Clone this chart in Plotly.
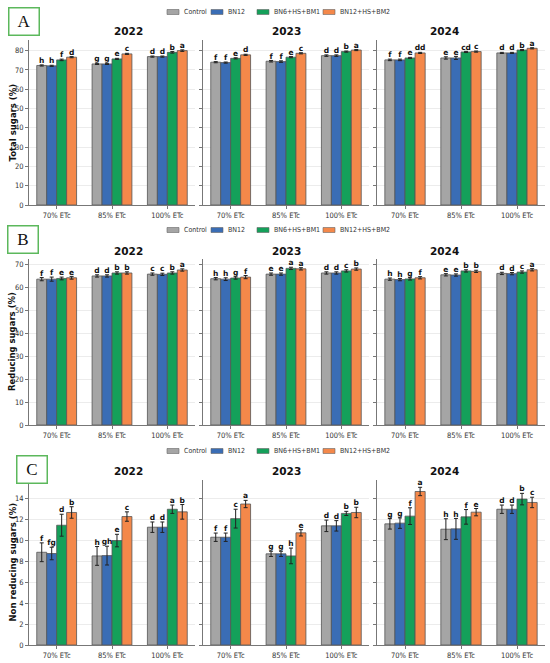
import plotly.graph_objects as go
from plotly.subplots import make_subplots

# treatments and irrigation levels
treatments = ["Control", "BN12", "BN6+HS+BM1", "BN12+HS+BM2"]
colors = ["#a5a5a5", "#3a6db5", "#14a05a", "#f4884a"]
etc_labels = ["70% ETc", "85% ETc", "100% ETc"]
years = ["2022", "2023", "2024"]

# Total sugars (%) -> [year][treatment][etc]
total_2022 = [[72.3, 73.1, 76.9], [72.1, 73.1, 76.9], [75.2, 75.7, 79.1], [76.6, 78.3, 80.0]]
total_2023 = [[74.0, 74.5, 77.4], [73.8, 74.3, 77.4], [76.0, 76.6, 79.5], [77.8, 78.6, 80.3]]
total_2024 = [[75.2, 76.2, 78.8], [75.2, 76.2, 78.8], [76.2, 79.3, 80.3], [78.8, 79.5, 81.2]]
total_err_2022 = [[0.3, 0.3, 0.3], [0.3, 0.3, 0.3], [0.4, 0.3, 0.4], [0.3, 0.3, 0.4]]
total_err_2023 = [[0.3, 0.4, 0.4], [0.3, 0.4, 0.4], [0.3, 0.3, 0.3], [0.3, 0.3, 0.3]]
total_err_2024 = [[0.4, 0.6, 0.3], [0.4, 0.8, 0.3], [0.3, 0.3, 0.3], [0.3, 0.3, 0.3]]
total_let_2022 = [["h", "g", "d"], ["h", "g", "d"], ["f", "e", "b"], ["d", "c", "a"]]
total_let_2023 = [["f", "f", "d"], ["f", "f", "d"], ["e", "e", "b"], ["d", "c", "a"]]
total_let_2024 = [["f", "e", "d"], ["f", "e", "d"], ["e", "cd", "b"], ["dd", "c", "a"]]

# Reducing sugars (%)
red_2022 = [[63.7, 65.1, 65.9], [63.7, 65.1, 65.8], [64.0, 66.4, 66.4], [64.3, 66.4, 67.7]]
red_2023 = [[63.9, 65.9, 66.4], [63.7, 65.9, 66.4], [64.2, 68.4, 67.3], [64.6, 68.2, 68.1]]
red_2024 = [[63.7, 65.6, 66.2], [63.5, 65.5, 66.1], [63.8, 67.3, 66.8], [64.3, 67.1, 67.8]]
red_err_2022 = [[0.7, 0.5, 0.5], [0.9, 0.5, 0.5], [0.6, 0.5, 0.5], [0.6, 0.5, 0.5]]
red_err_2023 = [[0.5, 0.5, 0.5], [0.6, 0.5, 0.5], [0.5, 0.5, 0.5], [0.7, 0.5, 0.5]]
red_err_2024 = [[0.5, 0.5, 0.5], [0.5, 0.5, 0.5], [0.5, 0.5, 0.5], [0.5, 0.5, 0.5]]
red_let_2022 = [["f", "d", "c"], ["f", "d", "c"], ["e", "b", "b"], ["e", "b", "a"]]
red_let_2023 = [["h", "e", "d"], ["h", "e", "d"], ["g", "a", "c"], ["f", "a", "b"]]
red_let_2024 = [["h", "e", "d"], ["h", "e", "d"], ["g", "b", "c"], ["f", "b", "a"]]

# Non reducing sugars (%)
nonred_2022 = [[8.88, 8.53, 11.28], [8.76, 8.56, 11.28], [11.47, 10.0, 13.0], [12.69, 12.3, 12.75]]
nonred_2023 = [[10.32, 8.73, 11.41], [10.32, 8.73, 11.41], [12.1, 8.53, 12.6], [13.5, 10.74, 12.69]]
nonred_2024 = [[11.6, 11.09, 13.0], [11.67, 11.12, 13.0], [12.34, 12.27, 13.97], [14.7, 12.72, 13.65]]
nonred_err_2022 = [[0.9, 0.9, 0.5], [0.6, 0.9, 0.5], [1.05, 0.6, 0.4], [0.55, 0.45, 0.7]]
nonred_err_2023 = [[0.4, 0.25, 0.55], [0.4, 0.25, 0.5], [0.9, 0.75, 0.2], [0.35, 0.3, 0.5]]
nonred_err_2024 = [[0.5, 1.0, 0.4], [0.5, 1.0, 0.4], [0.8, 0.7, 0.55], [0.4, 0.35, 0.5]]
nonred_let_2022 = [["f", "h", "d"], ["fg", "gh", "d"], ["d", "e", "a"], ["b", "c", "b"]]
nonred_let_2023 = [["f", "g", "d"], ["f", "g", "d"], ["c", "h", "b"], ["a", "e", "b"]]
nonred_let_2024 = [["g", "h", "d"], ["g", "h", "d"], ["f", "f", "b"], ["a", "e", "c"]]

rows = [
    {"label": "A", "ytitle": "Total sugars (%)", "yrange": [0, 85.5], "dtick": 10,
     "vals": [total_2022, total_2023, total_2024],
     "errs": [total_err_2022, total_err_2023, total_err_2024],
     "lets": [total_let_2022, total_let_2023, total_let_2024]},
    {"label": "B", "ytitle": "Reducing sugars (%)", "yrange": [0, 72.5], "dtick": 10,
     "vals": [red_2022, red_2023, red_2024],
     "errs": [red_err_2022, red_err_2023, red_err_2024],
     "lets": [red_let_2022, red_let_2023, red_let_2024]},
    {"label": "C", "ytitle": "Non reducing sugars (%)", "yrange": [0, 15.8], "dtick": 2,
     "vals": [nonred_2022, nonred_2023, nonred_2024],
     "errs": [nonred_err_2022, nonred_err_2023, nonred_err_2024],
     "lets": [nonred_let_2022, nonred_let_2023, nonred_let_2024]},
]

W, H = 550, 663
row_px = [(40, 205), (259, 425), (480, 645)]
col_px = [(29, 195), (203, 369), (377, 545)]
title_px = [31, 251, 471]
legend_px = [12, 230, 451]
legend_x = [167, 211, 257, 323]
box_px = [(24, 21.5), (23, 239.5), (31.5, 469.5)]
narrow = "DejaVu Sans Condensed, Liberation Sans Narrow, DejaVu Sans"

bar_w = 0.18
fig = make_subplots(rows=3, cols=3)


def px_x(v):
    return v / W


def px_y(v):
    return 1 - v / H


for r, spec in enumerate(rows):
    for c in range(3):
        for t in range(4):
            xs = [i + (t - 1.5) * bar_w for i in range(3)]
            vals = spec["vals"][c][t]
            errs = spec["errs"][c][t]
            fig.add_trace(go.Bar(
                x=xs, y=vals, width=bar_w, name=treatments[t],
                marker=dict(color=colors[t], line=dict(color="#555555", width=0.8)),
                error_y=dict(type="data", array=errs, color="#222222", thickness=1, width=2),
                showlegend=False,
            ), row=r + 1, col=c + 1)
            fig.add_trace(go.Scatter(
                x=xs, y=[v + e for v, e in zip(vals, errs)], mode="text",
                text=spec["lets"][c][t], textposition="top center",
                textfont=dict(size=7.5, color="#111111", family="DejaVu Sans", weight="bold"),
                showlegend=False, hoverinfo="skip",
            ), row=r + 1, col=c + 1)

        n = r * 3 + c + 1
        xa = "xaxis" if n == 1 else f"xaxis{n}"
        ya = "yaxis" if n == 1 else f"yaxis{n}"
        y0, y1 = row_px[r]
        x0, x1 = col_px[c]
        fig.layout[xa].update(
            domain=[px_x(x0), px_x(x1)], range=[-0.5, 2.5], automargin=False,
            tickvals=[0, 1, 2], ticktext=etc_labels, ticks="outside", ticklen=3,
            tickcolor="#777777", showline=True, linecolor="#777777", linewidth=1,
            showgrid=False, zeroline=False, tickfont=dict(size=7.5, color="#333333", family=narrow),
        )
        fig.layout[ya].update(
            domain=[px_y(y1), px_y(y0)], range=spec["yrange"], dtick=spec["dtick"],
            automargin=False, ticks="outside", ticklen=3, tickcolor="#777777",
            showline=True, linecolor="#777777", linewidth=1,
            showgrid=True, gridcolor="#ececec", gridwidth=0.6, zeroline=False,
            showticklabels=(c == 0), tickfont=dict(size=7.5, color="#333333", family=narrow),
        )
        fig.add_annotation(
            text=f"<b>{years[c]}</b>", xref="paper", yref="paper",
            x=px_x((x0 + x1) / 2), y=px_y(title_px[r]), yanchor="middle", showarrow=False,
            font=dict(size=10.5, color="#111111", family="DejaVu Sans"),
        )

    # y axis title
    y0, y1 = row_px[r]
    fig.add_annotation(
        text=f"<b>{spec['ytitle']}</b>", xref="paper", yref="paper",
        x=px_x(12), y=px_y((y0 + y1) / 2), xanchor="center", yanchor="middle",
        textangle=-90, showarrow=False,
        font=dict(size=8.5, color="#111111", family="DejaVu Sans"),
    )

    # panel letter box
    bx, by = box_px[r]
    fig.add_annotation(
        text=spec["label"], xref="paper", yref="paper", x=px_x(bx), y=px_y(by),
        xanchor="center", yanchor="middle", showarrow=False,
        font=dict(size=17, color="#111111", family="Liberation Serif"),
        bordercolor="#5cb85c", borderwidth=1.5, bgcolor="white", width=27, height=24,
    )

    # legend for the row
    ly = legend_px[r]
    for t in range(4):
        lx = legend_x[t]
        fig.add_shape(
            type="rect", xref="paper", yref="paper",
            x0=px_x(lx), x1=px_x(lx + 12), y0=px_y(ly + 2.5), y1=px_y(ly - 2.5),
            fillcolor=colors[t], line=dict(color="#666666", width=0.6),
        )
        fig.add_annotation(
            text=treatments[t], xref="paper", yref="paper",
            x=px_x(lx + 15), y=px_y(ly), xanchor="left", yanchor="middle",
            showarrow=False, font=dict(size=7, color="#333333", family=narrow),
        )

fig.update_layout(
    width=W, height=H, margin=dict(l=0, r=0, t=0, b=0),
    plot_bgcolor="white", paper_bgcolor="white",
    barmode="overlay", showlegend=False, font=dict(family="DejaVu Sans"),
)

fig.write_html("out.html", config={"displayModeBar": False},
               post_script="document.body.style.margin='0';")
